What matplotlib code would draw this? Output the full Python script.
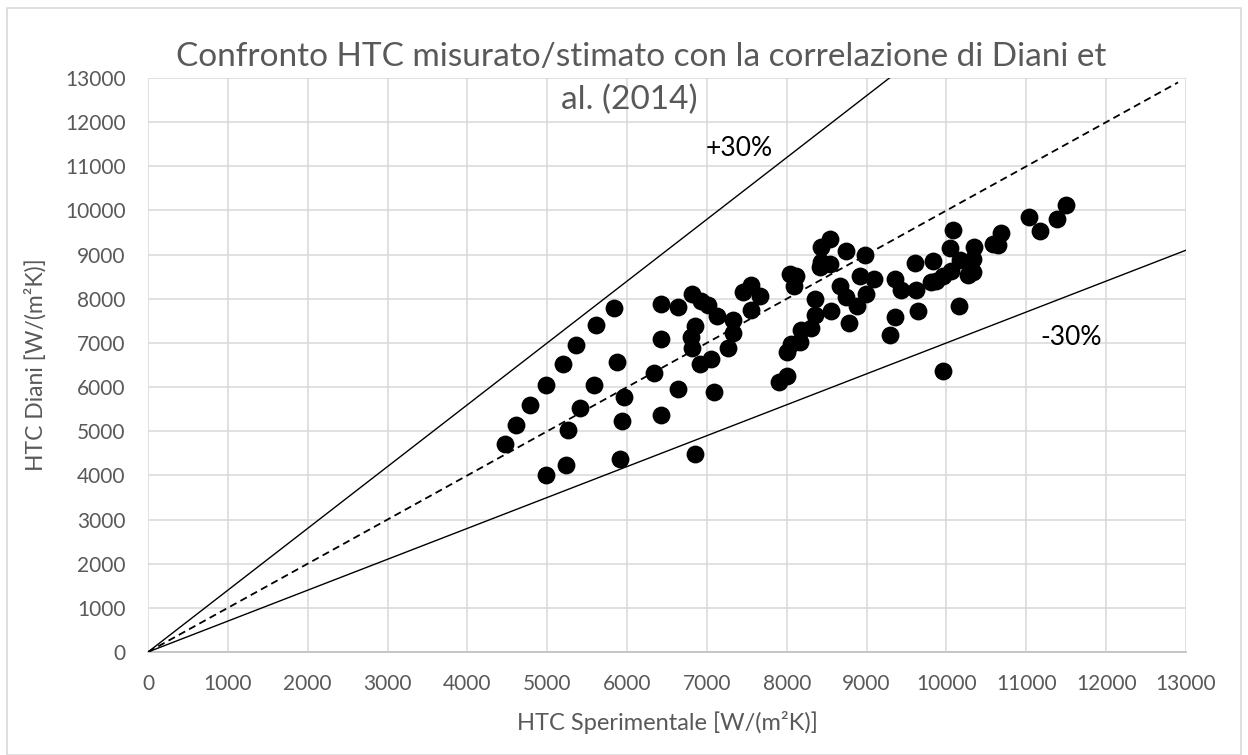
import matplotlib
matplotlib.use("Agg")
import matplotlib.pyplot as plt
import numpy as np
from matplotlib.patches import Rectangle

plt.rcParams['font.family'] = ['Lato', 'DejaVu Sans']

# Measured HTC [W/(m2K)]
htc_exp = [4466, 4608, 4779, 4987, 5196, 5358, 5617, 5833, 4987, 5233,
           5254, 5408, 5592, 5875, 5908, 5938, 5963, 6342, 6425, 6421,
           6421, 6638, 6638, 6854, 6808, 6921, 7016, 7129, 6850, 6800,
           6808, 6913, 7046, 7091, 7329, 7321, 7258, 7454, 7558, 7671,
           7558, 8046, 8113, 8088, 8004, 8050, 8163, 8183, 8308, 8008,
           7900, 8350, 8354, 8538, 8433, 8746, 8983, 8433, 8538, 8413,
           8913, 9088, 8663, 8746, 8996, 8879, 8558, 8775, 9350, 9433,
           9350, 9288, 9621, 9600, 9641, 9954, 10154, 10079, 10683, 10579,
           10641, 10046, 10350, 9829, 10171, 10329, 10329, 10266, 10058, 9954,
           9808, 9871, 11496, 11379, 11175, 11038]
# HTC estimated with Diani et al. (2014)
htc_diani = [4711, 5140, 5598, 6058, 6524, 6962, 7397, 7788, 4004, 4237,
             5027, 5516, 6043, 6562, 4372, 5230, 5765, 6321, 5373, 7088,
             7871, 7803, 5953, 4492, 8112, 7946, 7849, 7607, 7375, 7133,
             6894, 6532, 6630, 5878, 7510, 7233, 6894, 8149, 8323, 8074,
             7736, 8564, 8526, 8300, 6795, 6984, 7020, 7285, 7345, 6253,
             6104, 7623, 8000, 9353, 9165, 9090, 8993, 8826, 8790, 8713,
             8526, 8451, 8300, 8036, 8097, 7826, 7720, 7449, 8451, 8188,
             7585, 7172, 8188, 8804, 7720, 6366, 7833, 9557, 9481, 9242,
             9226, 9151, 9181, 8849, 8880, 8903, 8600, 8549, 8639, 8526,
             8375, 8413, 10129, 9806, 9542, 9842]

ref_x = [0, 12900]          # bisector
upper_factor = 1.4          # +30% band line
lower_factor = 0.7          # -30% band line
ticks = list(range(0, 14000, 1000))

W, H = 1248, 755
fig = plt.figure(figsize=(W / 100, H / 100), dpi=100)
ax = fig.add_axes([148 / W, 1 - 652 / H, (1186 - 148) / W, (652 - 78) / H])

gray = '#595959'

# reference lines
ax.plot(ref_x, ref_x, color='black', lw=1.3, ls=(0, (4, 2.5)), zorder=3)
ux = [0, 13000 / upper_factor]
ax.plot(ux, [v * upper_factor for v in ux], color='black', lw=1.0, zorder=3)
lx = [0, 13000]
ax.plot(lx, [v * lower_factor for v in lx], color='black', lw=1.0, zorder=3)

ax.scatter(htc_exp, htc_diani, s=165, color='black', zorder=4, linewidths=0)

ax.set_xlim(0, 13000)
ax.set_ylim(0, 13000)
ax.set_xticks(ticks)
ax.set_yticks(ticks)
ax.grid(True, color='#d9d9d9', lw=1.1, zorder=0)
ax.set_axisbelow(True)
for s in ['top', 'right', 'left']:
    ax.spines[s].set_visible(False)
ax.spines['bottom'].set_color('#bfbfbf')
ax.spines['bottom'].set_linewidth(1.2)
ax.tick_params(axis='both', length=0, labelsize=15, colors=gray)
ax.tick_params(axis='x', pad=16)
ax.tick_params(axis='y', pad=16)

ax.text(7400, 11400, '+30%', fontsize=19, color='black', ha='center', va='center')
ax.text(11560, 7130, '-30%', fontsize=19, color='black', ha='center', va='center')

fig.text(641 / W, 1 - 57 / H, 'Confronto HTC misurato/stimato con la correlazione di Diani et',
         fontsize=24, color=gray, ha='center', va='center')
fig.text(629 / W, 1 - 100 / H, 'al. (2014)', fontsize=24, color=gray, ha='center', va='center')

fig.text(667 / W, 1 - 722 / H, 'HTC Sperimentale [W/(m²K)]', fontsize=17, color=gray,
         ha='center', va='center')
fig.text(35 / W, 1 - 365 / H, 'HTC Diani [W/(m²K)]', fontsize=16.5, color=gray,
         ha='center', va='center', rotation=90)

fig.add_artist(Rectangle((7 / W, 0), (1241 - 7) / W, 1 - 8 / H, transform=fig.transFigure,
                         fill=False, edgecolor='#d9d9d9', lw=1.2))

fig.savefig('out.png', dpi=100, facecolor='white')
